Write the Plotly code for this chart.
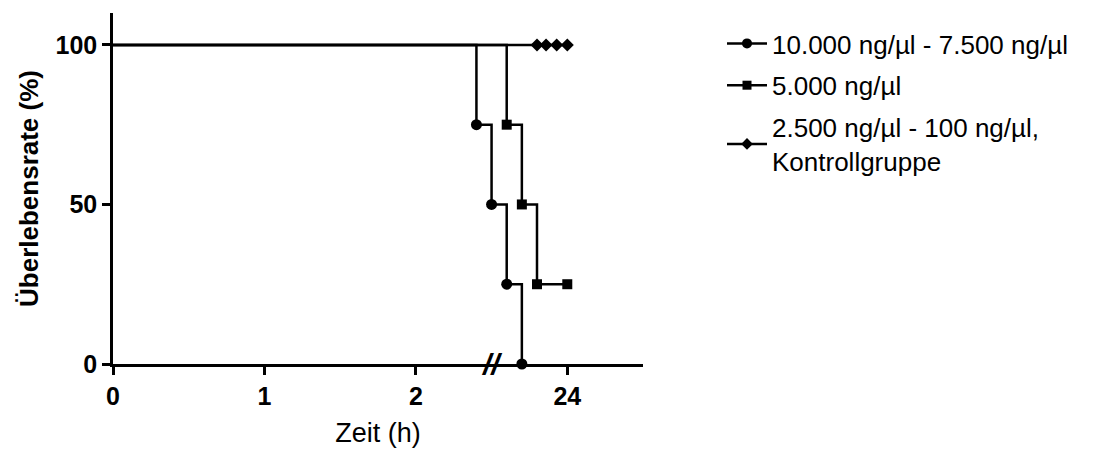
import plotly.graph_objects as go

# Data (x in axis display units; tick labels 0, 1, 2, 24 after the axis break)
x_tickvals = [0, 1, 2, 3]
x_ticktext = ["0", "1", "2", "24"]
y_tickvals = [0, 50, 100]

names = ["10.000 ng/µl - 7.500 ng/µl", "5.000 ng/µl", "2.500 ng/µl - 100 ng/µl,<br>Kontrollgruppe"]

t_high = [0, 2.4, 2.5, 2.6, 2.7]
s_high = [100, 75, 50, 25, 0]

t_mid = [0, 2.6, 2.7, 2.8, 3.0]
s_mid = [100, 75, 50, 25, 25]

t_low = [0, 3.0]
s_low = [100, 100]
t_low_cens = [2.8, 2.86, 2.93, 3.0]
s_low_cens = [100, 100, 100, 100]

break_x = 2.5

FONT = "Liberation Sans, Arial, sans-serif"
LW = 2.5
W, H = 1104, 440

fig = go.Figure()

def add_series(t, s, mt, ms, symbol, msize, name):
    fig.add_trace(go.Scatter(x=t, y=s, mode="lines", line=dict(color="black", width=LW, shape="hv"),
                             showlegend=False, cliponaxis=False, hoverinfo="skip"))
    fig.add_trace(go.Scatter(x=mt, y=ms, mode="markers",
                             marker=dict(symbol=symbol, size=msize, color="black"),
                             showlegend=False, cliponaxis=False))
    fig.add_trace(go.Scatter(x=[None], y=[None], mode="lines+markers", name=name,
                             line=dict(color="black", width=LW),
                             marker=dict(symbol=symbol, size=msize - 1, color="black"),
                             legendgroup=name))

add_series(t_high, s_high, t_high[1:], s_high[1:], "circle", 11, names[0])
add_series(t_mid, s_mid, t_mid[1:], s_mid[1:], "square", 10, names[1])
add_series(t_low, s_low, t_low_cens, s_low_cens, "diamond", 10, names[2])

fig.add_annotation(x=break_x, y=0, xref="x", yref="y", text="<b><i>//</i></b>", showarrow=False,
                   font=dict(family=FONT, size=30, color="black"), xanchor="center", yanchor="middle")

fig.update_xaxes(range=[0, 3.5], tickvals=x_tickvals, ticktext=x_ticktext,
                 showline=True, linecolor="black", linewidth=LW, showgrid=False, zeroline=False,
                 ticks="outside", ticklen=8, tickwidth=LW, tickcolor="black",
                 tickfont=dict(family=FONT, size=25, color="black", weight="bold"),
                 title=dict(text="Zeit (h)", font=dict(family=FONT, size=27, color="black"), standoff=18))
fig.update_yaxes(range=[0, 110], tickvals=y_tickvals,
                 showline=True, linecolor="black", linewidth=LW, showgrid=False, zeroline=False,
                 ticks="outside", ticklen=8, tickwidth=LW, tickcolor="black",
                 tickfont=dict(family=FONT, size=25, color="black", weight="bold"),
                 title=dict(text="Überlebensrate (%)", font=dict(family=FONT, size=26, color="black", weight="bold"), standoff=10))

fig.update_layout(
    width=W, height=H, autosize=False,
    margin=dict(l=105, r=W - 635, t=5, b=H - 356, autoexpand=False),
    plot_bgcolor="white", paper_bgcolor="white",
    font=dict(family=FONT, color="black"),
    legend=dict(xref="container", yref="container", x=714 / W, y=1 - 12 / H,
                xanchor="left", yanchor="top", font=dict(family=FONT, size=26, color="black"),
                tracegroupgap=5, itemwidth=40, bgcolor="rgba(0,0,0,0)"),
)

fig.write_html("out.html")
